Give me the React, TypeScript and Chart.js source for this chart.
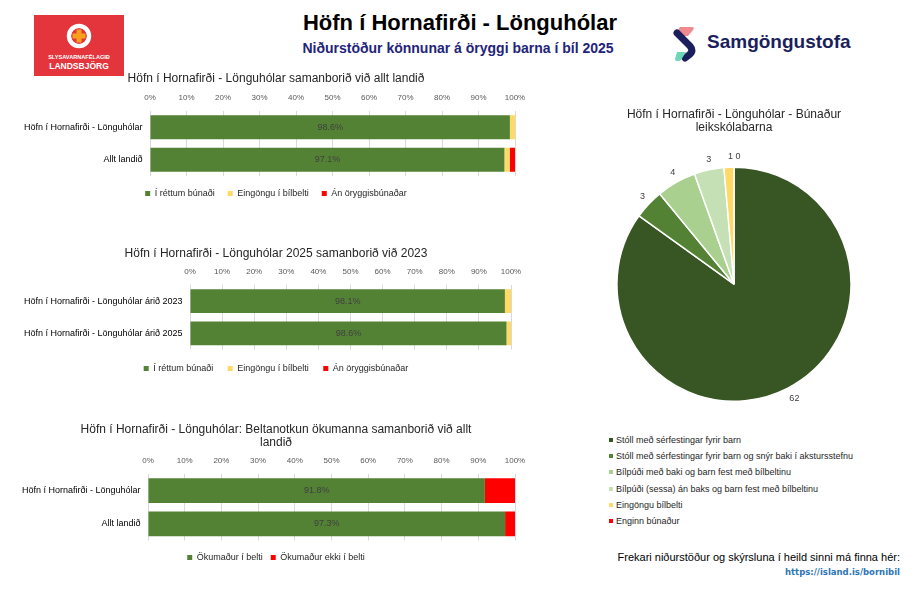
import React, { useEffect, useRef } from 'react';
import { Chart, registerables } from 'chart.js';

Chart.register(...registerables);

const FONT = "'Liberation Sans', Arial, Helvetica, sans-serif";

// ---------- data ----------
const percentTickLabels = ['0%', '10%', '20%', '30%', '40%', '50%', '60%', '70%', '80%', '90%', '100%'];

const seatSeriesNames = ['Í réttum búnaði', 'Eingöngu í bílbelti', 'Án öryggisbúnaðar'];
const beltSeriesNames = ['Ökumaður í belti', 'Ökumaður ekki í belti'];

const chart1Title = ['Höfn í Hornafirði - Lönguhólar samanborið við allt landið'];
const chart1Categories = ['Höfn í Hornafirði - Lönguhólar', 'Allt landið'];
const chart1Correct = [98.6, 97.1];
const chart1BeltOnly = [1.4, 1.5];
const chart1None = [0, 1.4];

const chart2Title = ['Höfn í Hornafirði - Lönguhólar 2025 samanborið við 2023'];
const chart2Categories = ['Höfn í Hornafirði - Lönguhólar árið 2023', 'Höfn í Hornafirði - Lönguhólar árið 2025'];
const chart2Correct = [98.1, 98.6];
const chart2BeltOnly = [1.9, 1.4];
const chart2None = [0, 0];

const chart3Title = ['Höfn í Hornafirði - Lönguhólar: Beltanotkun ökumanna samanborið við allt', 'landið'];
const chart3Categories = ['Höfn í Hornafirði - Lönguhólar', 'Allt landið'];
const chart3Belted = [91.8, 97.3];
const chart3NotBelted = [8.2, 2.7];

const pieTitle = ['Höfn í Hornafirði - Lönguhólar - Búnaður', 'leikskólabarna'];
const pieLabels = [
  'Stóll með sérfestingar fyrir barn',
  'Stóll með sérfestingar fyrir barn og snýr baki í akstursstefnu',
  'Bílpúði með baki og barn fest með bílbeltinu',
  'Bílpúði (sessa) án baks og barn fest með bílbeltinu',
  'Eingöngu bílbelti',
  'Enginn búnaður',
];
const pieValues = [62, 3, 4, 3, 1, 0];

// ---------- styles ----------
const GREEN = '#548235';
const YELLOW = '#FFD966';
const RED = '#FF0000';
const pieColors = ['#375623', '#548235', '#A9D08E', '#C5E0B4', '#FFD966', '#FF0000'];

const barValueLabels = {
  id: 'barValueLabels',
  afterDatasetsDraw(chart: any) {
    const meta = chart.getDatasetMeta(0);
    const ctx = chart.ctx;
    ctx.save();
    ctx.font = `9px ${FONT}`;
    ctx.fillStyle = '#404040';
    ctx.textAlign = 'center';
    ctx.textBaseline = 'middle';
    meta.data.forEach((el: any, i: number) => {
      const { x, y, base } = el.getProps(['x', 'y', 'base'], true);
      const v = chart.data.datasets[0].data[i];
      ctx.fillText(`${Number(v).toFixed(1)}%`, (x + base) / 2, y);
    });
    ctx.restore();
  },
};

const pieOutsideLabels = {
  id: 'pieOutsideLabels',
  afterDatasetsDraw(chart: any) {
    const meta = chart.getDatasetMeta(0);
    const ctx = chart.ctx;
    ctx.save();
    ctx.font = `9px ${FONT}`;
    ctx.fillStyle = '#404040';
    ctx.textAlign = 'center';
    ctx.textBaseline = 'middle';
    meta.data.forEach((arc: any, i: number) => {
      const { x, y, startAngle, endAngle, outerRadius } = arc.getProps(
        ['x', 'y', 'startAngle', 'endAngle', 'outerRadius'],
        true
      );
      const mid = (startAngle + endAngle) / 2;
      const r = outerRadius + 11;
      const v = chart.data.datasets[0].data[i];
      const dx = v === 0 ? 4 : 2;
      ctx.fillText(String(v), x + Math.cos(mid) * r + dx, y + Math.sin(mid) * r);
    });
    ctx.restore();
  },
};

type BarSpec = {
  title: string[];
  titleLineHeight: number;
  categories: string[];
  datasets: { label: string; data: number[]; color: string }[];
  plotLeft: number;
  plotRight: number;
  axisHeight: number;
  legendPad: number;
  legendGap: number;
};

function BarChart(props: BarSpec & { left: number; top: number; width: number; height: number }) {
  const ref = useRef<HTMLCanvasElement | null>(null);
  useEffect(() => {
    if (!ref.current) return;
    const rightGap = props.left + props.width - props.plotRight;
    const chart = new Chart(ref.current, {
      type: 'bar',
      data: {
        labels: props.categories,
        datasets: props.datasets.map((d) => ({
          label: d.label,
          data: d.data,
          backgroundColor: d.color,
          borderWidth: 0,
          barPercentage: 0.74,
          categoryPercentage: 1,
        })),
      },
      options: {
        indexAxis: 'y',
        animation: false,
        responsive: false,
        devicePixelRatio: 1,
        layout: { padding: 0 },
        scales: {
          x: {
            position: 'top',
            stacked: true,
            min: 0,
            max: 100,
            ticks: {
              stepSize: 10,
              padding: 8,
              color: '#595959',
              font: { size: 8, family: FONT },
              callback: (v: any) => percentTickLabels[Math.round(Number(v) / 10)],
            },
            grid: { color: '#D9D9D9', drawTicks: false },
            border: { display: false },
            afterFit: (s: any) => {
              s.height = props.axisHeight;
              s.paddingRight = rightGap;
            },
          },
          y: {
            stacked: true,
            ticks: { padding: 7.5, color: '#000000', font: { size: 9, family: FONT } },
            grid: { display: false, drawTicks: false },
            border: { display: false },
            afterFit: (s: any) => {
              s.width = props.plotLeft - props.left;
            },
          },
        },
        plugins: {
          title: {
            display: true,
            text: props.title,
            color: '#262626',
            font: { size: 12, weight: 'normal', family: FONT, lineHeight: props.titleLineHeight },
            padding: { top: 1, bottom: 0 },
          },
          legend: {
            position: 'bottom',
            title: {
              display: props.legendGap > 0,
              text: '',
              font: { size: 1, lineHeight: 1 },
              padding: { top: Math.max(props.legendGap - 1, 0), bottom: 0 },
            },
            labels: {
              boxWidth: 5,
              boxHeight: 5,
              padding: props.legendPad,
              color: '#262626',
              font: { size: 9, family: FONT },
            },
          },
          tooltip: { enabled: false },
        },
      } as any,
      plugins: [barValueLabels],
    });
    return () => chart.destroy();
  }, []);
  return (
    <canvas
      ref={ref}
      width={props.width}
      height={props.height}
      style={{ position: 'absolute', left: props.left, top: props.top, width: props.width, height: props.height }}
    />
  );
}

function PieChart() {
  const ref = useRef<HTMLCanvasElement | null>(null);
  useEffect(() => {
    if (!ref.current) return;
    const chart = new Chart(ref.current, {
      type: 'pie',
      data: {
        labels: pieLabels,
        datasets: [
          {
            data: pieValues,
            backgroundColor: pieColors,
            borderColor: '#FFFFFF',
            borderWidth: 1.5,
          },
        ],
      },
      options: {
        animation: false,
        responsive: false,
        devicePixelRatio: 1,
        layout: { padding: { left: 12, right: 12, top: 0, bottom: 19 } },
        plugins: {
          title: {
            display: true,
            text: pieTitle,
            color: '#262626',
            font: { size: 12, weight: 'normal', family: FONT, lineHeight: 1.1 },
            padding: { top: 1, bottom: 32 },
          },
          legend: { display: false },
          tooltip: { enabled: false },
        },
      } as any,
      plugins: [pieOutsideLabels],
    });
    return () => chart.destroy();
  }, []);
  return (
    <canvas
      ref={ref}
      width={260}
      height={314}
      style={{ position: 'absolute', left: 604, top: 107, width: 260, height: 314 }}
    />
  );
}

function LandsbjorgLogo() {
  return (
    <svg style={{ position: 'absolute', left: 34, top: 15 }} width={90} height={61}>
      <rect x={0} y={0} width={90} height={61} fill="#E4343C" />
      <circle cx={45} cy={21} r={10} fill="none" stroke="#FFFFFF" strokeWidth={4.5} />
      <circle cx={45} cy={21} r={7.5} fill="#E4343C" />
      <rect x={42.5} y={14.5} width={5} height={13} fill="#F7A11A" />
      <rect x={38.5} y={18.5} width={13} height={5} fill="#F7A11A" />
      <text x={45} y={44} textAnchor="middle" fill="#FFFFFF" fontSize={5.6} fontWeight="bold" fontFamily={FONT}>
        SLYSAVARNAFÉLAGIÐ
      </text>
      <text x={45} y={54} textAnchor="middle" fill="#FFFFFF" fontSize={8.5} fontWeight="bold" fontFamily={FONT}>
        LANDSBJÖRG
      </text>
    </svg>
  );
}

function SamgongustofaLogo() {
  return (
    <>
      <svg style={{ position: 'absolute', left: 672, top: 25 }} width={26} height={38}>
        <path d="M8 2 L20 2 Q23 2 21 5 L16 11 L6 11 Q2 11 4 8 Z" fill="#EF8A8F" />
        <path d="M5 8 L18 21 Q22 26 17 30 L13 33" fill="none" stroke="#1B1F5C" strokeWidth={7} strokeLinecap="round" />
        <path d="M5 27 L14 27 L9 35 Q8 36 6 36 L5 36 Q3 36 3 34 Z" fill="#6FD6B8" />
      </svg>
      <div
        style={{
          position: 'absolute',
          left: 707,
          top: 31,
          fontFamily: FONT,
          fontWeight: 'bold',
          fontSize: 19,
          color: '#1B1F5C',
          whiteSpace: 'nowrap',
        }}
      >
        Samgöngustofa
      </div>
    </>
  );
}

export default function App() {
  useEffect(() => {
    document.body.style.margin = '0';
    document.body.style.background = '#FFFFFF';
  }, []);

  return (
    <div style={{ position: 'absolute', left: 0, top: 0, width: 916, height: 594, background: '#FFFFFF', overflow: 'hidden' }}>
      <LandsbjorgLogo />
      <SamgongustofaLogo />
      <div
        style={{
          position: 'absolute',
          left: 0,
          width: 916,
          top: 9,
          textAlign: 'center',
          fontFamily: FONT,
          fontWeight: 'bold',
          fontSize: 22,
          color: '#000000',
          lineHeight: '28px',
          paddingLeft: 2,
        }}
      >
        Höfn í Hornafirði - Lönguhólar
      </div>
      <div
        style={{
          position: 'absolute',
          left: 0,
          width: 916,
          top: 39,
          textAlign: 'center',
          fontFamily: FONT,
          fontWeight: 'bold',
          fontSize: 14,
          color: '#1F2479',
          lineHeight: '18px',
        }}
      >
        Niðurstöður könnunar á öryggi barna í bíl 2025
      </div>

      <BarChart
        left={16}
        top={70}
        width={520}
        height={138}
        title={chart1Title}
        titleLineHeight={1.2}
        categories={chart1Categories}
        datasets={[
          { label: seatSeriesNames[0], data: chart1Correct, color: GREEN },
          { label: seatSeriesNames[1], data: chart1BeltOnly, color: YELLOW },
          { label: seatSeriesNames[2], data: chart1None, color: RED },
        ]}
        plotLeft={150}
        plotRight={515}
        axisHeight={25.6}
        legendPad={13}
        legendGap={0}
      />
      <BarChart
        left={16}
        top={245}
        width={520}
        height={138}
        title={chart2Title}
        titleLineHeight={1.2}
        categories={chart2Categories}
        datasets={[
          { label: seatSeriesNames[0], data: chart2Correct, color: GREEN },
          { label: seatSeriesNames[1], data: chart2BeltOnly, color: YELLOW },
          { label: seatSeriesNames[2], data: chart2None, color: RED },
        ]}
        plotLeft={190}
        plotRight={511}
        axisHeight={24.6}
        legendPad={14.5}
        legendGap={0}
      />
      <BarChart
        left={16}
        top={422}
        width={520}
        height={150}
        title={chart3Title}
        titleLineHeight={1.1}
        categories={chart3Categories}
        datasets={[
          { label: beltSeriesNames[0], data: chart3Belted, color: GREEN },
          { label: beltSeriesNames[1], data: chart3NotBelted, color: RED },
        ]}
        plotLeft={148}
        plotRight={515}
        axisHeight={24.6}
        legendPad={8}
        legendGap={4.5}
      />

      <PieChart />

      <div style={{ position: 'absolute', left: 609, top: 432, fontFamily: FONT, fontSize: 9, color: '#262626' }}>
        {pieLabels.map((label, i) => (
          <div key={label} style={{ height: 16.2, display: 'flex', alignItems: 'center', whiteSpace: 'nowrap' }}>
            <span style={{ display: 'inline-block', width: 4, height: 4, background: pieColors[i], marginRight: 3 }} />
            {label}
          </div>
        ))}
      </div>

      <div
        style={{
          position: 'absolute',
          right: 16,
          top: 551,
          fontFamily: FONT,
          fontSize: 11,
          color: '#000000',
          whiteSpace: 'nowrap',
          textAlign: 'right',
        }}
      >
        Frekari niðurstöður og skýrsluna í heild sinni má finna hér:
      </div>
      <div
        style={{
          position: 'absolute',
          right: 16,
          top: 567,
          fontFamily: "'DejaVu Sans', Verdana, sans-serif",
          fontWeight: 'bold',
          fontSize: 8.5,
          color: '#2E75B6',
          whiteSpace: 'nowrap',
        }}
      >
        https://island.is/bornibil
      </div>
    </div>
  );
}
